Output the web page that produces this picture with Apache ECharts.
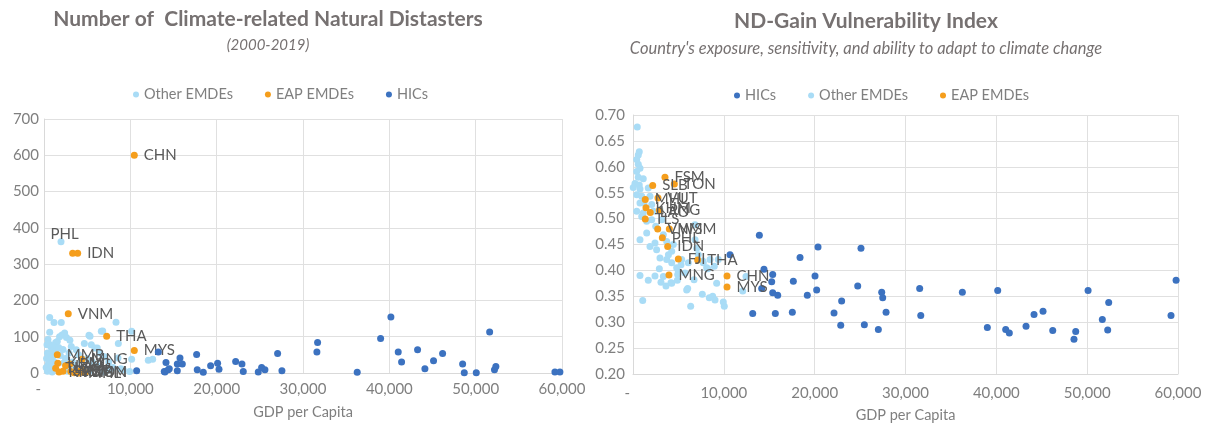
<!DOCTYPE html>
<html><head><meta charset="utf-8">
<script src="https://cdn.jsdelivr.net/npm/echarts@6/dist/echarts.min.js"></script>
<style>html,body{margin:0;padding:0;background:#fff}#c{width:1211px;height:428px}</style>
</head><body><div id="c"></div>
<script>
// ---------- LEFT CHART: Number of climate-related natural disasters vs GDP per capita ----------
const otherL = [[660,153],[1160,139],[2000,139],[1350,84],[660,112],[460,92],[2080,105],[2390,110],[2600,98],[1540,87],[1800,100],
 [350,78],[580,80],[800,72],[1100,75],[1270,68],[900,60],[400,55],[600,50],[1000,45],[300,40],[700,35],[1200,30],[500,25],[850,20],
 [250,15],[1100,12],[650,8],[400,5],[950,3],[1400,60],[1700,70],[2200,65],[2500,40],[2900,55],[3160,73],[3740,64],[3300,30],[3600,20],
 [4000,50],[4670,81],[5210,104],[5330,101],[5480,78],[5900,69],[6170,69],[6480,55],[6640,115],[6800,116],[5000,40],[5600,30],[6200,20],
 [7000,45],[7500,30],[8000,15],[8340,140],[8610,81],[8570,41],[9180,9],[9920,4],[10150,115],[10150,38],[12080,35],[12590,38],[2700,5],
 [4500,10],[5200,5],[6800,3],[7600,8],[8900,12],[4300,35],[3000,90],[1900,48],[2300,28],[1970,362]];
const otherLabelsL = []; otherLabelsL[otherL.length-1] = 'PHL';
const eapL = [[10460,600],[3900,330],[3320,330],[2810,163],[7260,101],[10460,62],[1540,50],[4400,38],[1600,27],[2500,20],[3010,25],
 [1350,13],[1740,3],[2200,5],[4320,9],[3100,4],[4200,2],[4800,1],[3500,1],[4000,0]];
const eapLabelsL = ['CHN','IDN','','VNM','THA','MYS','MMR','MNG','KHM','LAO','PNG','TLS','KIR','SLB','FJI','VUT','WSM','TON','FSM','MHL'];
const hicL = [[10730,6],[13240,58],[14130,29],[14010,3],[13930,4],[14390,9],[14510,12],[15440,25],[15750,41],[16020,25],[15440,6],
 [17680,51],[17750,9],[18450,2],[19300,20],[20110,27],[20270,10],[22200,32],[22930,25],[23080,4],[24820,3],[25210,15],[25590,9],
 [27060,54],[27560,6],[31690,84],[31610,58],[36280,2],[38990,95],[40180,154],[41030,58],[41420,30],[43270,64],[44120,12],[45120,34],
 [46170,54],[48490,25],[48680,1],[50070,1],[51620,113],[52180,9],[52340,18],[59180,3],[59760,3]];

// ---------- RIGHT CHART: ND-Gain vulnerability index vs GDP per capita ----------
const hicR = [[10680,0.430],[13910,0.468],[14420,0.402],[14170,0.365],[15380,0.392],[15270,0.378],[15380,0.357],[15930,0.352],
 [17650,0.379],[18390,0.425],[19190,0.352],[20040,0.389],[20220,0.362],[20370,0.445],[13180,0.317],[15670,0.317],[17540,0.319],
 [22130,0.318],[22970,0.341],[22870,0.294],[24740,0.370],[25100,0.443],[25470,0.295],[27010,0.286],[27380,0.358],[27490,0.347],
 [27860,0.319],[31560,0.365],[31680,0.313],[36260,0.358],[39010,0.290],[40150,0.361],[41030,0.286],[41430,0.279],[43270,0.292],
 [44150,0.315],[45140,0.321],[46210,0.284],[48550,0.267],[48740,0.282],[50100,0.361],[51670,0.305],[52370,0.338],[52260,0.285],
 [59230,0.313],[59790,0.381]];
const otherR = [[470,0.677],[690,0.629],[580,0.623],[410,0.614],[580,0.605],[770,0.597],[410,0.591],[580,0.580],[1130,0.577],
 [220,0.568],[690,0.565],[30,0.560],[770,0.557],[1680,0.559],[410,0.546],[960,0.543],[1870,0.543],[770,0.530],[2060,0.527],
 [410,0.514],[1130,0.511],[2240,0.514],[960,0.504],[2060,0.498],[2970,0.517],[3160,0.498],[1510,0.472],[770,0.459],[3340,0.469],
 [3710,0.456],[1870,0.446],[2420,0.453],[4440,0.450],[4260,0.437],[2970,0.424],[3710,0.421],[4260,0.415],[4810,0.405],[5360,0.421],
 [6090,0.415],[5730,0.395],[6830,0.459],[7010,0.443],[7190,0.430],[7740,0.415],[8110,0.405],[8480,0.421],[9390,0.421],[6830,0.488],
 [770,0.390],[1680,0.381],[2420,0.389],[3080,0.377],[3340,0.388],[3630,0.370],[4260,0.375],[4880,0.381],[4990,0.398],[1070,0.342],
 [5910,0.362],[6020,0.365],[6350,0.331],[6720,0.382],[7630,0.354],[8400,0.347],[8770,0.350],[9030,0.343],[9210,0.375],[9940,0.339],
 [10050,0.331],[12080,0.360],[12440,0.388],[4920,0.392],[4180,0.376],[2900,0.403],[5290,0.411],[7670,0.418],[8220,0.403],[8950,0.408],
 [1500,0.495],[2500,0.485],[1200,0.530],[2600,0.440],[3900,0.430]];
const eapR = [[3520,0.580],[4550,0.567],[2170,0.564],[1350,0.537],[2750,0.540],[1430,0.521],[2900,0.516],[1900,0.512],[1350,0.499],
 [2720,0.480],[4000,0.480],[3230,0.463],[3820,0.446],[4990,0.422],[7120,0.420],[3960,0.391],[10350,0.389],[10350,0.368]];
const eapLabelsR = ['FSM','TON','SLB','MHL','VUT','KHM','PNG','LAO','TLS','VNM','WSM','PHL','IDN','FJI','THA','MNG','CHN','MYS'];

const titlesL = ['Number of  Climate-related Natural Distasters', '(2000-2019)'];
const titlesR = ['ND-Gain Vulnerability Index', "Country's exposure, sensitivity, and ability to adapt to climate change"];
const legendL = ['Other EMDEs', 'EAP EMDEs', 'HICs'];
const legendR = ['HICs', 'Other EMDEs', 'EAP EMDEs'];
const xName = 'GDP per Capita';

// ---------- rendering ----------
const FONT = 'Lato, "Open Sans", sans-serif';
const C_OTHER = '#a9dcf6', C_EAP = '#f59e1c', C_HIC = '#3c72c0';
const GRAY = '#7f7f7f', TCOL = '#767171', LCOL = '#595959', GRID = '#e0e0e0';

function xAxis(gi, labelMargin, nameGap) {
  return { gridIndex: gi, type: 'value', min: 0, max: 60000, interval: 10000,
    axisLine: { show: true, lineStyle: { color: '#d9d9d9' } }, axisTick: { show: false },
    splitLine: { show: true, lineStyle: { color: GRID } },
    axisLabel: { color: GRAY, fontSize: 15, fontFamily: FONT, margin: labelMargin,
      formatter: v => v === 0 ? '-   ' : v.toLocaleString('en-US') },
    name: xName, nameLocation: 'middle', nameGap: nameGap,
    nameTextStyle: { color: GRAY, fontSize: 14.5, fontFamily: FONT } };
}
function yAxis(gi, min, max, interval, fmt, margin) {
  return { gridIndex: gi, type: 'value', min, max, interval,
    axisLine: { show: true, lineStyle: { color: '#d9d9d9' } }, axisTick: { show: false },
    splitLine: { show: true, lineStyle: { color: GRID } },
    axisLabel: { color: GRAY, fontSize: 15, fontFamily: FONT, margin, formatter: fmt } };
}
function sc(name, data, gi, color, labels, z, labelExtra) {
  const s = { name, type: 'scatter', xAxisIndex: gi, yAxisIndex: gi, data, symbol: 'circle', symbolSize: 7,
    itemStyle: { color, opacity: 1 }, z, emphasis: { disabled: true } };
  if (labels) {
    s.label = Object.assign({ show: true, position: 'right', distance: 6, color: LCOL, fontSize: 15, fontFamily: FONT,
      formatter: p => labels[p.dataIndex] || '' }, labelExtra || {});
    s.labelLayout = { hideOverlap: false };
  }
  return s;
}
function title(x, top, t, subSize) {
  return { text: t[0], subtext: t[1], left: x, top, textAlign: 'center', itemGap: 8,
    textStyle: { fontSize: 21, fontWeight: 'bold', color: TCOL, fontFamily: FONT },
    subtextStyle: { fontSize: subSize, fontStyle: 'italic', color: TCOL, fontFamily: FONT } };
}
function legend(x, top, data) {
  return { data, left: x, top, icon: 'circle', itemWidth: 6, itemHeight: 6, itemGap: 32,
    textStyle: { color: GRAY, fontSize: 14.5, fontFamily: FONT } };
}

const chart = echarts.init(document.getElementById('c'));
chart.setOption({
  backgroundColor: '#fff',
  animation: false,
  title: [title(263, 4, titlesL, 15), title(861, 6, titlesR, 16.5)],
  legend: [legend(128, 82, legendL), legend(729, 83, legendR)],
  grid: [
    { left: 44, top: 119, width: 518, height: 254, containLabel: false },
    { left: 633, top: 115, width: 545, height: 260, containLabel: false }
  ],
  xAxis: [xAxis(0, 9, 32), xAxis(1, 12, 34)],
  yAxis: [yAxis(0, 0, 700, 100, v => String(v), 5), yAxis(1, 0.2, 0.7, 0.05, v => v.toFixed(2), 8)],
  series: [
    sc('Other EMDEs', otherL, 0, C_OTHER, otherLabelsL, 2, { position: [-7, -11] }),
    sc('EAP EMDEs', eapL, 0, C_EAP, eapLabelsL, 3),
    sc('HICs', hicL, 0, C_HIC, null, 4),
    sc('HICs', hicR, 1, C_HIC, null, 2),
    sc('Other EMDEs', otherR, 1, C_OTHER, null, 3),
    sc('EAP EMDEs', eapR, 1, C_EAP, eapLabelsR, 4)
  ]
});
</script></body></html>
